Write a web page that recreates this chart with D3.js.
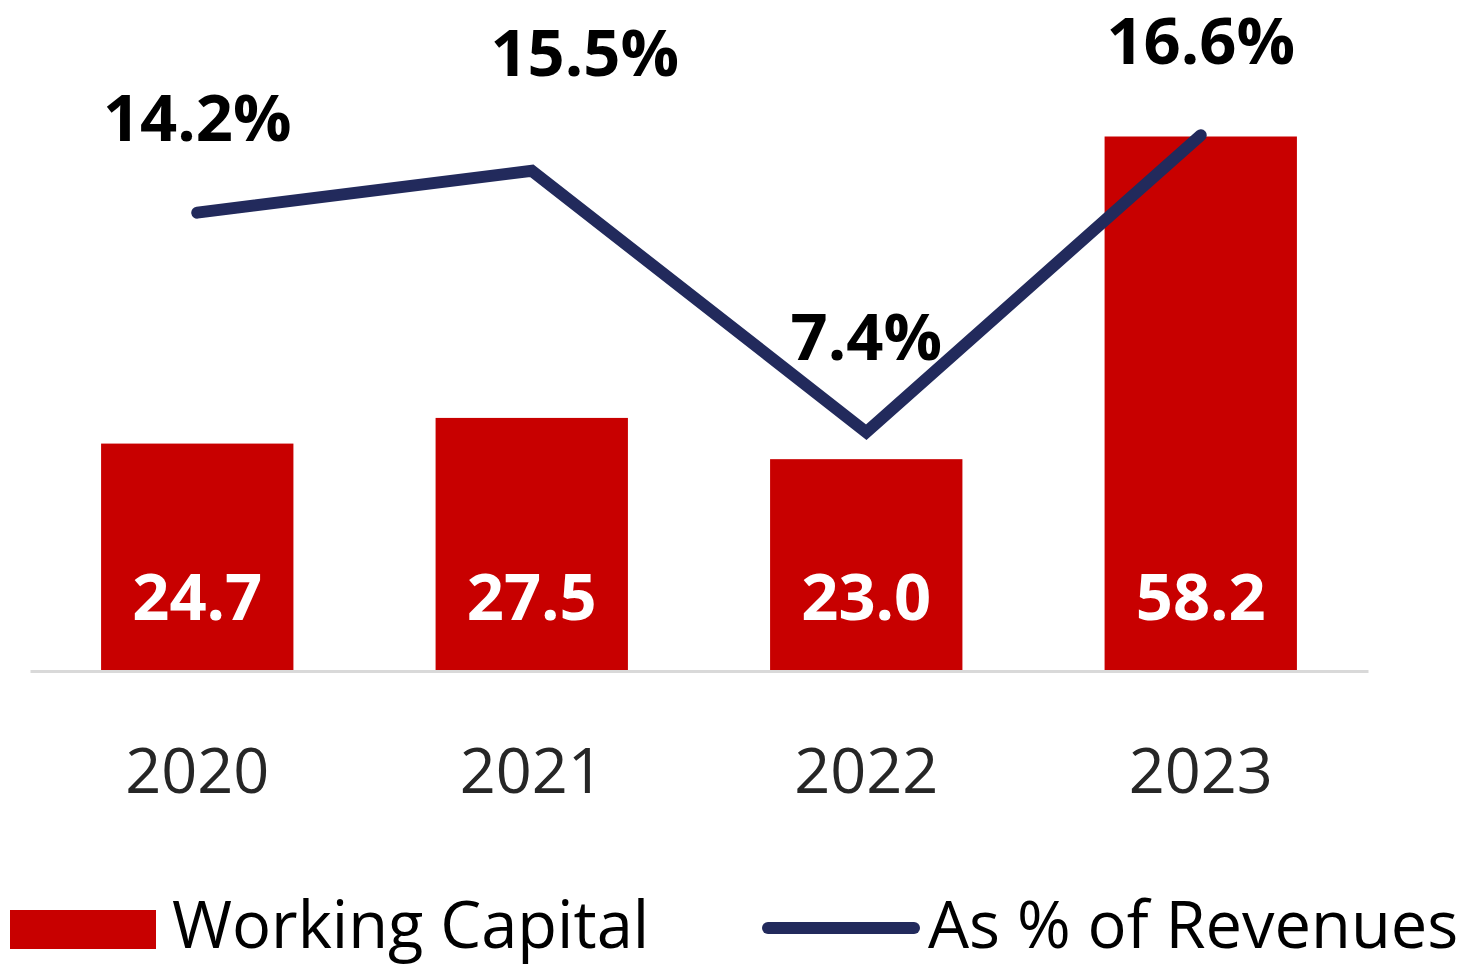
<!DOCTYPE html>
<html>
<head>
<meta charset="utf-8">
<script src="https://cdn.jsdelivr.net/npm/d3@7"></script>
<style>
  body { margin: 0; background: #fff; }
  svg { display: block; font-family: "Open Sans", "Noto Sans", sans-serif; }
</style>
</head>
<body>
<div id="chart"></div>
<script>
const years = ["2020", "2021", "2022", "2023"];
const workingCapital = [24.7, 27.5, 23.0, 58.2];
const pctRevenues = [14.2, 15.5, 7.4, 16.6];
const seriesNames = ["Working Capital", "As % of Revenues"];

const width = 1470, height = 965;
const baseY = 671;
const red = "#C80000", navy = "#222A5C";

// label nudges for the % values (2021 sits off to the right)
const pctDx = [0, 53, 0, 0];
const pctDy = [-72, -95, -72, -71];

const svg = d3.select("#chart").append("svg")
  .attr("width", width)
  .attr("height", height);

const x = d3.scaleBand()
  .domain(years)
  .range([30, 1368])
  .paddingInner(0.425)
  .paddingOuter(0.2125);

const yBar = d3.scaleLinear().domain([0, 60]).range([baseY - 1, 120]);
const yPct = d3.scaleLinear().domain([0, 18]).range([baseY, 90]);

// bars
svg.selectAll("rect.bar")
  .data(workingCapital)
  .enter()
  .append("rect")
  .attr("class", "bar")
  .attr("x", (d, i) => x(years[i]))
  .attr("width", x.bandwidth())
  .attr("y", d => yBar(d))
  .attr("height", d => yBar(0) - yBar(d))
  .attr("fill", red);

// bar values
svg.selectAll("text.barval")
  .data(workingCapital)
  .enter()
  .append("text")
  .attr("class", "barval")
  .attr("x", (d, i) => x(years[i]) + x.bandwidth() / 2)
  .attr("y", 620)
  .attr("text-anchor", "middle")
  .attr("fill", "#fff")
  .style("font-size", "65px")
  .style("font-weight", 700)
  .text(d => d.toFixed(1));

// x axis
const xAxis = d3.axisBottom(x).tickSizeInner(0).tickSizeOuter(0).tickPadding(77);
const gx = svg.append("g")
  .attr("transform", "translate(0," + baseY + ")")
  .call(xAxis);
gx.select(".domain").attr("stroke", "#D9D9D9").attr("stroke-width", 3);
gx.selectAll(".tick text")
  .attr("fill", "#262626")
  .style("font-family", "'Open Sans', sans-serif")
  .style("font-size", "63px");

// line
const line = d3.line()
  .x((d, i) => x(years[i]) + x.bandwidth() / 2)
  .y(d => yPct(d));

svg.append("path")
  .datum(pctRevenues)
  .attr("d", line)
  .attr("fill", "none")
  .attr("stroke", navy)
  .attr("stroke-width", 12)
  .attr("stroke-linecap", "round")
  .attr("stroke-linejoin", "miter");

svg.selectAll("text.pct")
  .data(pctRevenues)
  .enter()
  .append("text")
  .attr("class", "pct")
  .attr("x", (d, i) => x(years[i]) + x.bandwidth() / 2 + pctDx[i])
  .attr("y", (d, i) => yPct(d) + pctDy[i])
  .attr("text-anchor", "middle")
  .attr("fill", "#000")
  .style("font-size", "65px")
  .style("font-weight", 700)
  .text(d => d.toFixed(1) + "%");

// legend
const legend = svg.append("g");
legend.append("rect")
  .attr("x", 10).attr("y", 910)
  .attr("width", 146).attr("height", 39)
  .attr("fill", red);
legend.append("text")
  .attr("x", 172).attr("y", 948)
  .attr("fill", "#000")
  .style("font-size", "65px")
  .text(seriesNames[0]);
legend.append("line")
  .attr("x1", 768).attr("x2", 914)
  .attr("y1", 928).attr("y2", 928)
  .attr("stroke", navy)
  .attr("stroke-width", 12)
  .attr("stroke-linecap", "round");
legend.append("text")
  .attr("x", 928).attr("y", 948)
  .attr("fill", "#000")
  .style("font-size", "65px")
  .text(seriesNames[1]);
</script>
</body>
</html>
